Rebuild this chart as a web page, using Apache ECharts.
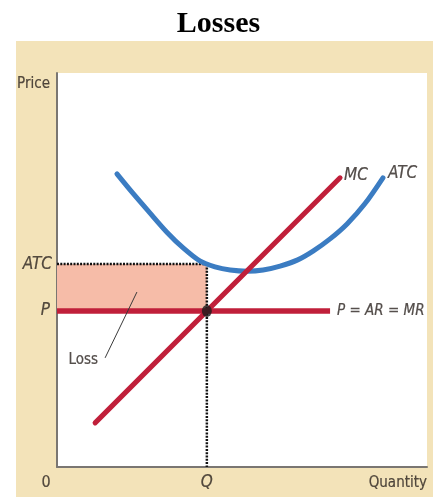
<!DOCTYPE html>
<html>
<head>
<meta charset="utf-8">
<script src="https://cdn.jsdelivr.net/npm/echarts@6/dist/echarts.min.js"></script>
<style>
html,body{margin:0;padding:0;background:#fff;}
#chart{width:437px;height:497px;}
</style>
</head>
<body>
<div id="chart"></div>
<script>
// ---- data (axis units 0..100) ----
const titleText = 'Losses';
const qValue = 40.5;        // output level Q
const pValue = 39.6;        // price P = AR = MR
const atcValue = 51.5;      // ATC at Q
const pLineEndX = 73.8;     // right end of P = AR = MR line
const mcX = [10.3, 76.5];
const mcY = [11.2, 73.4];
const atcCurveX = [16.2, 20.5, 25.1, 29.7, 34.1, 38.6, 42.7, 46.8, 51.4, 55.7, 60.3, 64.9, 69.2, 73.8, 78.4, 83.2, 88.1];
const atcCurveY = [74.4, 69.5, 64.5, 59.6, 55.6, 52.3, 50.8, 50.0, 49.7, 50.0, 51.0, 52.5, 54.8, 57.9, 61.7, 66.8, 73.4];
const lossLeaderX = [13.0, 21.6];
const lossLeaderY = [27.7, 44.4];
const axisNames = { y: 'Price', x: 'Quantity', origin: '0', q: 'Q' };
const levelNames = { atc: 'ATC', p: 'P', mc: 'MC', atcCurve: 'ATC', demand: 'P = AR = MR', loss: 'Loss' };

// ---- styles ----
const RED = '#c01f3a';
const BLUE = '#3b7cc2';
const PINK = '#f6bca8';
const BEIGE = '#f3e3b9';
const TXT = '#2a231f';
const NARROW = "'Liberation Sans Narrow', 'DejaVu Sans Condensed', 'Arial Narrow', sans-serif";

const zip = (xs, ys) => xs.map((x, i) => [x, ys[i]]);

function lbl(x, y, text, opts) {
  return {
    value: [x, y],
    label: Object.assign({
      show: true, formatter: text, color: TXT, fontFamily: NARROW, fontSize: 15,
      textBorderColor: TXT, textBorderWidth: 0.2
    }, opts)
  };
}

const labelData = [
  lbl(0, 100, axisNames.y, { position: [-7, 11], align: 'right', verticalAlign: 'middle' }),
  lbl(0, atcValue, levelNames.atc, { position: [-5, 0], align: 'right', verticalAlign: 'middle', fontStyle: 'italic', fontSize: 17 }),
  lbl(0, pValue, levelNames.p, { position: [-7, 0], align: 'right', verticalAlign: 'middle', fontStyle: 'italic', fontSize: 17 }),
  lbl(0, 0, axisNames.origin, { position: [-11, 16], align: 'center', verticalAlign: 'middle', fontSize: 16 }),
  lbl(qValue, 0, axisNames.q, { position: [0, 16], align: 'center', verticalAlign: 'middle', fontStyle: 'italic', fontSize: 17 }),
  lbl(100, 0, axisNames.x, { position: [0, 16], align: 'right', verticalAlign: 'middle' }),
  lbl(mcX[1], mcY[1], levelNames.mc, { position: [4, -2], align: 'left', verticalAlign: 'middle', fontStyle: 'italic', fontSize: 17 }),
  lbl(atcCurveX[atcCurveX.length - 1], atcCurveY[atcCurveY.length - 1], levelNames.atcCurve, { position: [5, -4], align: 'left', verticalAlign: 'middle', fontStyle: 'italic', fontSize: 17 }),
  lbl(pLineEndX, pValue, levelNames.demand, { position: [7, 0], align: 'left', verticalAlign: 'middle', fontStyle: 'italic', fontSize: 15 }),
  lbl(lossLeaderX[0], lossLeaderY[0], levelNames.loss, { position: [-7, 2], align: 'right', verticalAlign: 'middle' })
];

const chart = echarts.init(document.getElementById('chart'), null, { renderer: 'canvas' });
chart.setOption({
  animation: false,
  backgroundColor: '#ffffff',
  title: {
    text: titleText, left: 'center', top: 4,
    textStyle: { fontFamily: "'Liberation Serif', 'Times New Roman', serif", fontWeight: 'bold', fontSize: 30, color: '#000' }
  },
  graphic: [{
    type: 'rect', z: -100, silent: true,
    shape: { x: 16, y: 41, width: 417, height: 456 },
    style: { fill: BEIGE }
  }],
  grid: { left: 57, right: 10, top: 73, bottom: 30, show: true, backgroundColor: '#ffffff', borderWidth: 0 },
  xAxis: {
    type: 'value', min: 0, max: 100,
    axisLine: { show: true, onZero: false, lineStyle: { color: '#7a7672', width: 2 } },
    axisTick: { show: false }, axisLabel: { show: false }, splitLine: { show: false }
  },
  yAxis: {
    type: 'value', min: 0, max: 100,
    axisLine: { show: true, onZero: false, lineStyle: { color: '#7a7672', width: 2 } },
    axisTick: { show: false }, axisLabel: { show: false }, splitLine: { show: false }
  },
  series: [
    {
      name: 'lossArea', type: 'line', data: [], silent: true,
      markArea: {
        silent: true,
        itemStyle: { color: PINK, opacity: 1 },
        data: [[{ coord: [0, atcValue] }, { coord: [qValue, pValue] }]]
      }
    },
    {
      name: 'atcLevel', type: 'line', symbol: 'none', silent: true, z: 3,
      data: [[0, atcValue], [qValue, atcValue]],
      lineStyle: { color: '#111', width: 2.5, type: [2, 1.3] }
    },
    {
      name: 'qLevel', type: 'line', symbol: 'none', silent: true, z: 3,
      data: [[qValue, atcValue], [qValue, 0]],
      lineStyle: { color: '#111', width: 2.5, type: [2, 1.3] }
    },
    {
      name: 'ATC', type: 'line', symbol: 'none', smooth: 0.3, silent: true, z: 4,
      data: zip(atcCurveX, atcCurveY),
      lineStyle: { color: BLUE, width: 5, cap: 'round' }
    },
    {
      name: 'P = AR = MR', type: 'line', symbol: 'none', silent: true, z: 5,
      data: [[0, pValue], [pLineEndX, pValue]],
      lineStyle: { color: RED, width: 5.5, cap: 'butt' }
    },
    {
      name: 'MC', type: 'line', symbol: 'none', silent: true, z: 5,
      data: zip(mcX, mcY),
      lineStyle: { color: RED, width: 5, cap: 'round' }
    },
    {
      name: 'lossLeader', type: 'line', symbol: 'none', silent: true, z: 6,
      data: zip(lossLeaderX, lossLeaderY),
      lineStyle: { color: '#3a3a3a', width: 1 }
    },
    {
      name: 'equilibrium', type: 'scatter', silent: true, z: 7,
      data: [[qValue, pValue]],
      symbol: 'circle', symbolSize: [10, 12],
      itemStyle: { color: '#1c1c1c' }
    },
    {
      name: 'labels', type: 'scatter', silent: true, z: 8, clip: false,
      symbolSize: 0,
      data: labelData
    }
  ]
});
</script>
</body>
</html>
